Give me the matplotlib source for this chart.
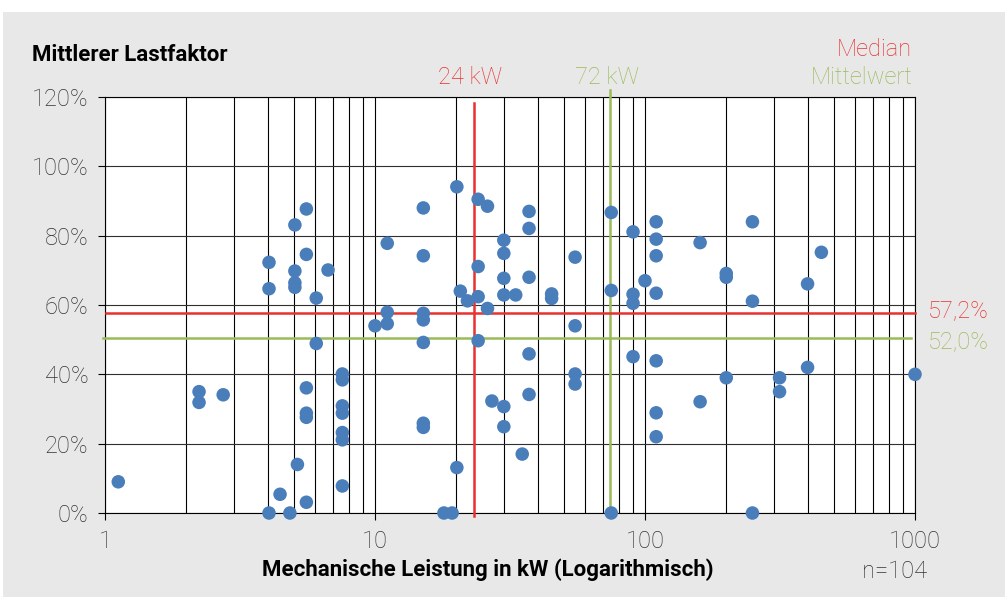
import numpy as np
import matplotlib.pyplot as plt
from matplotlib.patches import Rectangle
from matplotlib.ticker import FixedLocator, NullFormatter, FuncFormatter

plt.rcParams['font.family'] = ['Roboto', 'DejaVu Sans']

# Leistung in kW und mittlerer Lastfaktor in %
leistung = [1.12, 2.23, 2.23, 2.74, 4.05, 4.05, 5.05, 5.57, 5.57, 5.05, 5.05, 5.05,
            6.70, 6.06, 10.0, 6.06, 7.57, 7.57, 5.57, 7.57, 7.57, 5.57, 5.57, 7.57,
            7.57, 5.16, 7.57, 4.45, 5.57, 4.05, 4.84,
            11.1, 11.1, 11.1, 15.1, 15.1, 15.1, 15.1, 15.1, 15.1, 15.1, 20.1, 20.7,
            22.0, 20.1, 18.0, 19.3, 24.1, 26.1, 24.1, 24.1, 26.1, 24.1, 27.1, 30.0,
            30.0, 30.0, 30.0, 33.2, 30.0, 30.0, 35.1, 37.2, 37.2, 37.2, 37.2, 37.2,
            45.1, 45.1, 55.1, 55.1, 55.1, 55.1, 75.0, 75.0, 75.0, 90.3, 90.3, 90.3,
            90.3, 100.0,
            110, 110, 110, 110, 110, 110, 110, 160, 160, 200, 200, 200, 250, 250, 250,
            315, 315, 400, 400, 450, 1000]
lastfaktor = [9.0, 35.0, 31.9, 34.1, 72.3, 64.7, 83.1, 87.7, 74.6, 69.8, 66.4, 65.1,
              70.1, 62.0, 54.0, 48.9, 40.1, 38.4, 36.1, 30.9, 28.8, 28.8, 27.6, 23.2,
              21.1, 14.0, 7.8, 5.4, 3.1, 0.0, 0.0,
              77.8, 57.9, 54.6, 88.0, 74.2, 57.6, 55.7, 49.2, 25.9, 24.7, 94.1, 64.0,
              61.2, 13.1, 0.0, 0.0, 90.5, 88.5, 71.1, 62.4, 59.0, 49.7, 32.3, 78.7,
              74.9, 67.7, 62.9, 62.9, 30.7, 24.9, 17.0, 87.0, 82.1, 68.0, 45.9, 34.2,
              63.2, 61.9, 73.8, 54.0, 40.1, 37.2, 86.7, 64.2, 0.0, 81.1, 63.1, 60.5,
              45.1, 67.0,
              84.0, 79.0, 74.2, 63.4, 43.9, 28.9, 22.0, 78.0, 32.1, 69.1, 68.0, 39.0,
              84.0, 61.1, 0.0, 39.0, 35.0, 66.1, 42.0, 75.2, 40.0]

# Lage der Linien wie im Bild, Beschriftungen wie im Original
median_kw = 23.3
mittel_kw = 74
median_lf = 57.6
mittel_lf = 50.6
median_kw_text = '24 kW'
mittel_kw_text = '72 kW'
median_lf_text = '57,2%'
mittel_lf_text = '52,0%'

rot = '#e8322f'
gruen = '#9bbb59'
blau = '#4a7ebb'
text_grau = '#333333'

fig = plt.figure(figsize=(10.05, 6.01), dpi=100)
fig.patch.set_facecolor('white')
fig.patches.append(Rectangle((3 / 1005, 4 / 601), 1002 / 1005, 585 / 601,
                             transform=fig.transFigure, facecolor='#e8e8e8',
                             edgecolor='none', zorder=-10))

ax = fig.add_axes([105 / 1005, 88 / 601, 810 / 1005, 416 / 601])
ax.set_facecolor('white')
ax.set_xscale('log')
ax.set_xlim(1, 1000)
ax.set_ylim(0, 120)

# Gitter
ax.xaxis.set_major_locator(FixedLocator([1, 10, 100, 1000]))
ax.xaxis.set_minor_locator(FixedLocator([m * 10 ** e for e in range(3) for m in range(2, 10)]))
ax.xaxis.set_minor_formatter(NullFormatter())
ax.xaxis.set_major_formatter(FuncFormatter(lambda v, p: f'{int(v)}'))
ax.set_yticks(np.arange(0, 121, 20))
ax.yaxis.set_major_formatter(FuncFormatter(lambda v, p: f'{int(v)}%'))
ax.grid(True, which='both', axis='x', color='black', linewidth=0.8)
ax.grid(True, which='major', axis='y', color='#303030', linewidth=0.8)
ax.set_axisbelow(True)
for s in ax.spines.values():
    s.set_color('black')
    s.set_linewidth(0.8)

ax.tick_params(axis='both', which='major', direction='out', length=5, width=0.8,
               labelsize=17, labelcolor=text_grau, color='black', pad=7)
ax.tick_params(axis='x', which='minor', length=0)
for lbl in ax.get_xticklabels() + ax.get_yticklabels():
    lbl.set_fontweight('light')

# Median / Mittelwert
ax.plot([median_kw, median_kw], [118.3, -1], color=rot, lw=1.8, clip_on=False, zorder=3)
ax.plot([mittel_kw, mittel_kw], [122, 0], color=gruen, lw=1.8, clip_on=False, zorder=3)
ax.plot([1.01, 1000], [median_lf, median_lf], color=rot, lw=1.8, clip_on=False, zorder=3)
ax.plot([0.985, 967], [mittel_lf, mittel_lf], color=gruen, lw=1.8, clip_on=False, zorder=3)

ax.scatter(leistung, lastfaktor, s=95, color=blau, edgecolors='none', zorder=4, clip_on=False)

# Beschriftungen
fig.text(32 / 1005, 1 - 55 / 601, 'Mittlerer Lastfaktor', fontsize=16, fontweight='bold',
         color='black', va='center', ha='left')
fig.text(488 / 1005, 1 - 570 / 601, 'Mechanische Leistung in kW (Logarithmisch)',
         fontsize=16, fontweight='bold', color='black', va='center', ha='center')
fig.text(895 / 1005, 1 - 571 / 601, 'n=104', fontsize=17, fontweight='light',
         color=text_grau, va='center', ha='center')
fig.text(470 / 1005, 1 - 77 / 601, median_kw_text, fontsize=17, fontweight='light',
         color=rot, va='center', ha='center')
fig.text(607 / 1005, 1 - 77 / 601, mittel_kw_text, fontsize=17, fontweight='light',
         color=gruen, va='center', ha='center')
fig.text(912 / 1005, 1 - 50 / 601, 'Median', fontsize=17, fontweight='light',
         color=rot, va='center', ha='right')
fig.text(912 / 1005, 1 - 77 / 601, 'Mittelwert', fontsize=17, fontweight='light',
         color=gruen, va='center', ha='right')
fig.text(928 / 1005, 1 - 311 / 601, median_lf_text, fontsize=17,
         fontweight='light', color=rot, va='center', ha='left')
fig.text(928 / 1005, 1 - 342 / 601, mittel_lf_text, fontsize=17,
         fontweight='light', color=gruen, va='center', ha='left')

plt.savefig('out.png', dpi=100, facecolor=fig.get_facecolor())
